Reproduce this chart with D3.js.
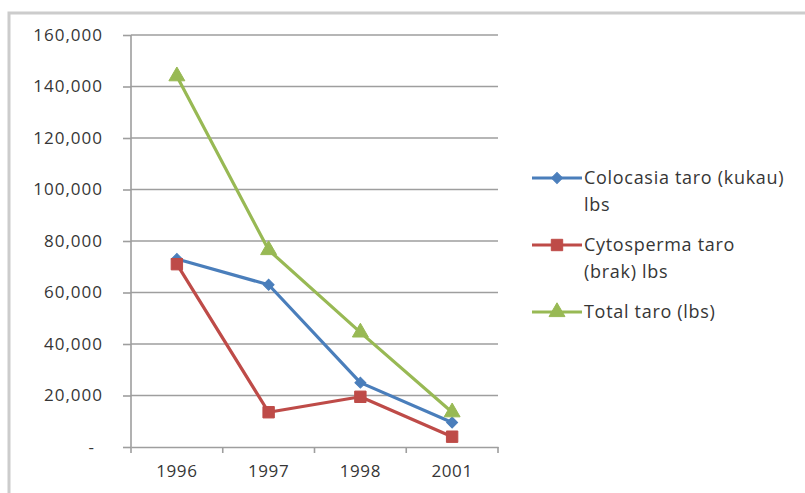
<!DOCTYPE html>
<html>
<head>
<meta charset="utf-8">
<script src="https://cdn.jsdelivr.net/npm/d3@7"></script>
<style>
  html, body { margin: 0; padding: 0; background: #fff; }
  svg { display: block; }
  text { font-family: "Open Sans", "Lato", sans-serif; fill: #363636; }
</style>
</head>
<body>
<svg id="chart" width="805" height="493"></svg>
<script>
// Taro harvest by year (lbs)
const years = ["1996", "1997", "1998", "2001"];
const colocasia = [73000, 63000, 25000, 9500];
const cytosperma = [71000, 13500, 19500, 4000];
const total = [144000, 76500, 44500, 13500];
const yTicks = [0, 20000, 40000, 60000, 80000, 100000, 120000, 140000, 160000];

// diamond markers are squares turned 45 degrees
const series = [
  { name: ["Colocasia taro (kukau)", "lbs"], values: colocasia, color: "#4A7EBB", symbol: d3.symbolSquare, size: 60, rotate: 45 },
  { name: ["Cytosperma taro", "(brak) lbs"], values: cytosperma, color: "#BE4B48", symbol: d3.symbolSquare, size: 130, rotate: 0 },
  { name: ["Total taro (lbs)"], values: total, color: "#98B954", symbol: d3.symbolTriangle, size: 110, rotate: 0 }
];

const svg = d3.select("#chart");

// outer frame
svg.append("path")
  .attr("d", "M9,493 L9,13 L805,13")
  .attr("fill", "none")
  .attr("stroke", "#cccccc")
  .attr("stroke-width", 3);

const x = d3.scaleBand().domain(years).range([131, 498]);
const y = d3.scaleLinear().domain([0, 160000]).range([447, 35]);

const fmt = v => v === 0 ? "-" : d3.format(",")(v);

// horizontal gridlines
svg.append("g")
  .selectAll("line")
  .data(yTicks.filter(v => v > 0))
  .join("line")
  .attr("x1", 131).attr("x2", 498)
  .attr("y1", d => y(d)).attr("y2", d => y(d))
  .attr("stroke", "#9e9e9e").attr("stroke-width", 1.6);

// y axis
const yAxis = svg.append("g")
  .attr("transform", "translate(131,0)")
  .call(d3.axisLeft(y).tickValues(yTicks).tickFormat(fmt).tickSize(8).tickPadding(20));
yAxis.select(".domain").attr("stroke", "#9e9e9e").attr("stroke-width", 1.6)
  .attr("d", "M0,35V453");
yAxis.selectAll(".tick line").attr("stroke", "#9e9e9e").attr("stroke-width", 1.6);
yAxis.selectAll(".tick text")
  .attr("font-size", 17)
  .attr("letter-spacing", 1)
  .attr("fill", "#363636")
  .style("font-family", '"Open Sans", sans-serif')
  .attr("dx", d => d === 0 ? -8 : 0);

// x axis
const xAxis = svg.append("g")
  .attr("transform", "translate(0,447)")
  .call(d3.axisBottom(x).tickSize(0).tickPadding(18));
xAxis.select(".domain").attr("stroke", "#9e9e9e").attr("stroke-width", 1.6);
xAxis.selectAll(".tick text")
  .attr("font-size", 17)
  .attr("letter-spacing", 0.6)
  .attr("fill", "#363636")
  .style("font-family", '"Open Sans", sans-serif');
// category boundary ticks
xAxis.append("g")
  .selectAll("line")
  .data(years.slice(1).concat(["end"]))
  .join("line")
  .attr("x1", (d, i) => 131 + x.step() * (i + 1))
  .attr("x2", (d, i) => 131 + x.step() * (i + 1))
  .attr("y1", 0).attr("y2", 6)
  .attr("stroke", "#9e9e9e").attr("stroke-width", 1.6);

const cx = d => x(d) + x.bandwidth() / 2;

// lines and markers
series.forEach(s => {
  const pts = years.map((yr, i) => [cx(yr), y(s.values[i])]);
  svg.append("path")
    .attr("d", d3.line()(pts))
    .attr("fill", "none")
    .attr("stroke", s.color)
    .attr("stroke-width", 3.2)
    .attr("stroke-linejoin", "round");
  svg.append("g")
    .selectAll("path")
    .data(pts)
    .join("path")
    .attr("transform", d => `translate(${d[0]},${d[1]}) rotate(${s.rotate})`)
    .attr("d", d3.symbol().type(s.symbol).size(s.size))
    .attr("fill", s.color)
    .attr("stroke", s.color)
    .attr("stroke-width", 1);
});

// legend
const legendRows = [178, 245, 312];
series.forEach((s, i) => {
  const g = svg.append("g").attr("transform", `translate(0,${legendRows[i]})`);
  g.append("line")
    .attr("x1", 532).attr("x2", 582)
    .attr("y1", 0).attr("y2", 0)
    .attr("stroke", s.color).attr("stroke-width", 3.2);
  g.append("path")
    .attr("transform", `translate(557,0) rotate(${s.rotate})`)
    .attr("d", d3.symbol().type(s.symbol).size(s.size))
    .attr("fill", s.color)
    .attr("stroke", s.color);
  s.name.forEach((t, k) => {
    g.append("text")
      .attr("x", 584)
      .attr("y", k * 27 + 6)
      .attr("font-size", 18)
      .attr("letter-spacing", 0.7)
      .text(t);
  });
});
</script>
</body>
</html>
